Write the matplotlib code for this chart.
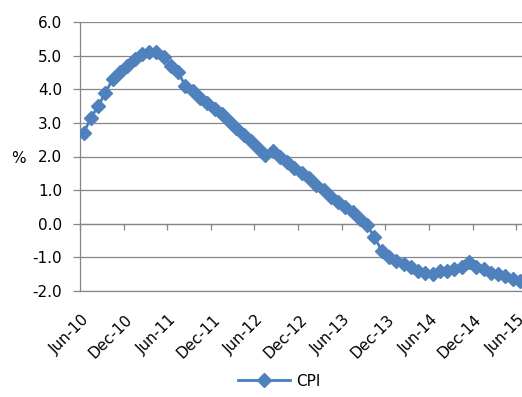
import numpy as np
import pandas as pd
import matplotlib
matplotlib.use("Agg")
import matplotlib.pyplot as plt
from matplotlib.transforms import ScaledTranslation

# monthly CPI, y/y %, Jun-10 .. Jun-15
months = pd.date_range("2010-06-01", periods=61, freq="MS")
cpi = [2.7, 3.15, 3.5, 3.9, 4.3, 4.5, 4.7, 4.9, 5.05, 5.1,
       5.1, 4.95, 4.7, 4.5, 4.1, 3.95, 3.75, 3.6, 3.4, 3.25,
       3.05, 2.85, 2.65, 2.45, 2.25, 2.05, 2.15, 2.0, 1.85, 1.65,
       1.5, 1.35, 1.15, 1.0, 0.8, 0.65, 0.5, 0.35, 0.15, -0.05,
       -0.4, -0.8, -1.0, -1.1, -1.2, -1.3, -1.4, -1.45, -1.5, -1.4,
       -1.4, -1.35, -1.3, -1.15, -1.3, -1.35, -1.45, -1.5, -1.55, -1.65, -1.7]
yticks = [-2.0, -1.0, 0.0, 1.0, 2.0, 3.0, 4.0, 5.0, 6.0]

plt.rcParams['font.family'] = ['DejaVu Sans']
plt.rcParams['font.size'] = 11

blue = "#4A7EBB"
grey = "#868686"

W, H = 522, 397
fig = plt.figure(figsize=(W / 100, H / 100), dpi=100)
ax = fig.add_axes([80 / W, 106 / H, 443.5 / W, 269 / H])

x = np.arange(len(cpi))
ax.plot(x, cpi, color=blue, lw=2.0, marker="D", ms=7,
        markerfacecolor="#4F81BD", markeredgecolor="#4F81BD", label="CPI", zorder=3)

ax.set_xlim(-0.5, len(cpi) - 0.5)
ax.set_ylim(-2.0, 6.0)
ax.set_yticks(yticks)
ax.set_yticklabels(["%.1f" % v for v in yticks])
ax.yaxis.grid(True, color=grey, lw=0.9)
ax.set_axisbelow(True)

# labels every 6 months, centred on the category
lab_idx = np.arange(0, len(cpi), 6)
ax.set_xticks(lab_idx)
ax.set_xticklabels([months[i].strftime("%b-%y") for i in lab_idx],
                   rotation=45, ha="right", va="center", rotation_mode="anchor")
ax.tick_params(axis="x", length=0, pad=19)
ax.tick_params(axis="y", direction="out", length=5, width=0.9, color=grey, pad=8)
nudge = ScaledTranslation(3 / 100, 0, fig.dpi_scale_trans)
for lbl in ax.get_xticklabels():
    lbl.set_transform(lbl.get_transform() + nudge)

for s in ["top", "right"]:
    ax.spines[s].set_visible(False)
for s in ["left", "bottom"]:
    ax.spines[s].set_color(grey)
    ax.spines[s].set_linewidth(0.9)

# category axis crosses at zero, tick marks on category boundaries
sec = ax.secondary_xaxis(0.25)
sec.set_xticks(lab_idx - 0.5)
sec.set_xticklabels([])
sec.tick_params(direction="out", length=4, width=0.9, color=grey)
sec.spines["bottom"].set_color(grey)
sec.spines["bottom"].set_linewidth(0.9)

ax.set_ylabel("%", rotation=0, va="center", ha="center")
ax.yaxis.set_label_coords(-61.5 / 443.5, 0.494)

fig.legend(loc="center", bbox_to_anchor=(0.535, 16 / H), frameon=False,
           handlelength=3.4, handletextpad=0.35)

fig.savefig("out.png", dpi=100)
